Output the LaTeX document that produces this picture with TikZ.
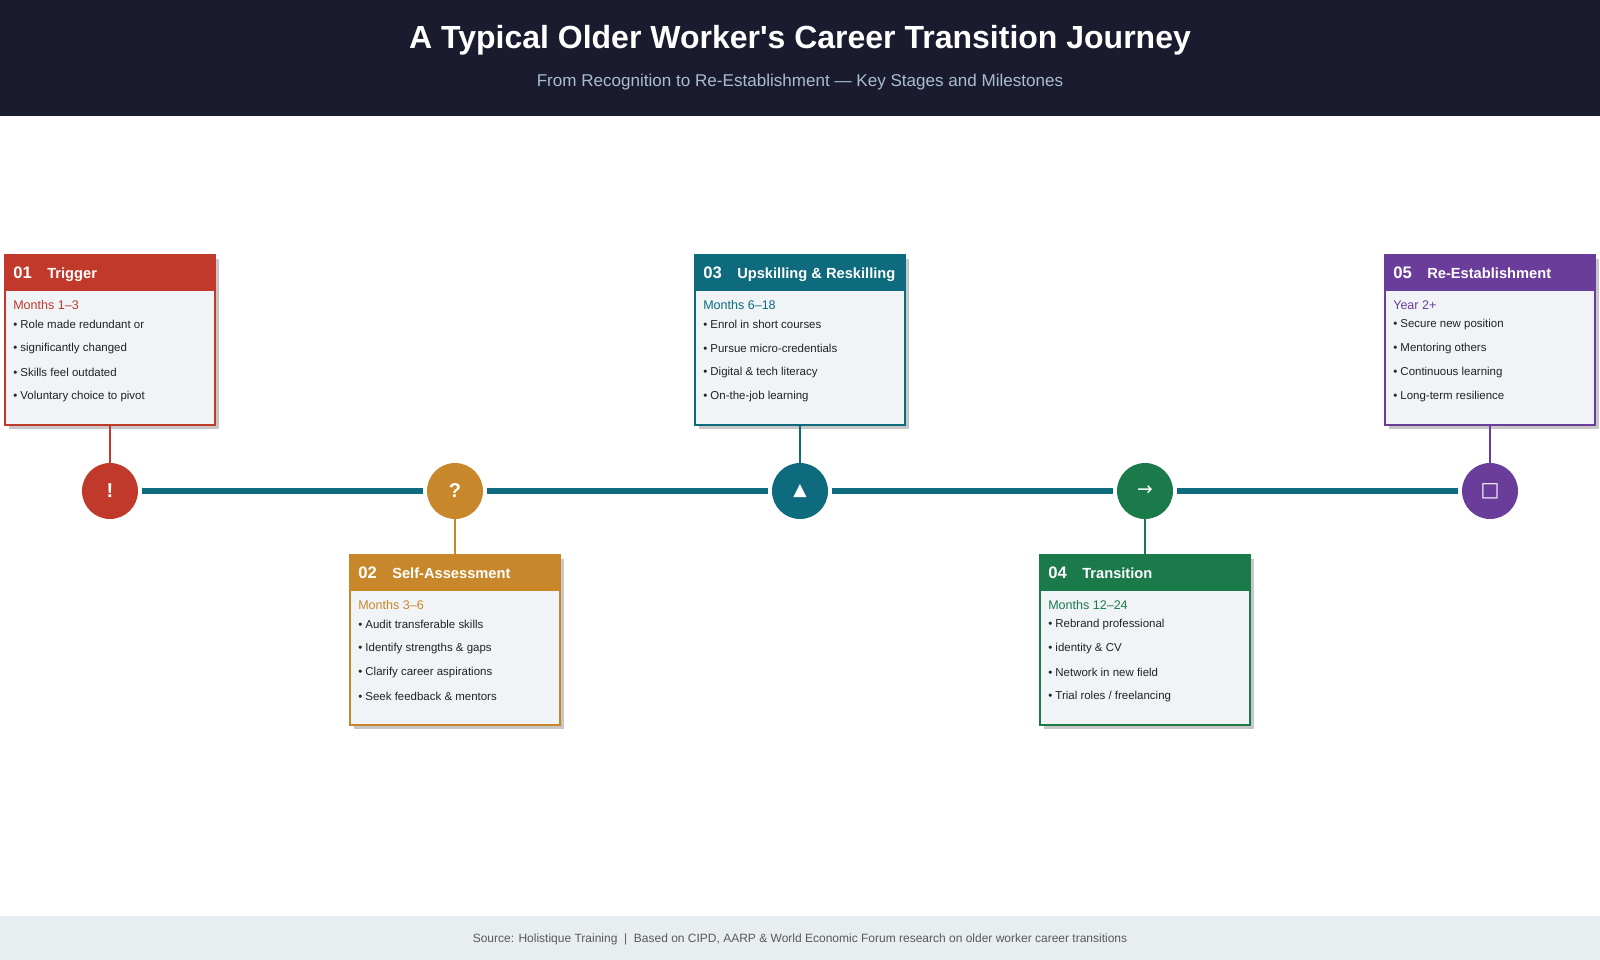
\documentclass[tikz,border=0pt]{standalone}
\usepackage{fontspec}
\setmainfont{Liberation Sans}[Ligatures=TeXOff]
\newfontfamily\dejavu{DejaVu Sans}
\definecolor{hdr}{HTML}{1A1B2E}
\definecolor{sub}{HTML}{A9BCD0}
\definecolor{cR}{HTML}{C0392B}
\definecolor{cO}{HTML}{C8872A}
\definecolor{cT}{HTML}{0E6B7E}
\definecolor{cG}{HTML}{1B7A4A}
\definecolor{cP}{HTML}{6A3D9A}
\definecolor{boxfill}{HTML}{F0F4F7}
\definecolor{foot}{HTML}{E8EEF0}
\definecolor{txt}{HTML}{222222}
\tikzset{
 fs/.style={font=\fontsize{#1}{#1}\selectfont},
 circ/.style={circle,fill=#1,minimum size=42pt,inner sep=0pt,text=white},
 bul/.style={anchor=west,fs=8.6,text=txt,inner sep=0pt},
}
\begin{document}
\begin{tikzpicture}[x=0.75pt,y=-0.75pt]
\useasboundingbox (0,0) rectangle (1600,960);
\fill[hdr] (0,0) rectangle (1600,116);
\node[text=white,font=\bfseries\fontsize{24}{24}\selectfont] (title) at (800,40) {A Typical Older Worker's Career Transition Journey};
\node[fs=12.8,text=sub] (subtitle) at (800,82) {From Recognition to Re-Establishment — Key Stages and Milestones};
\fill[foot] (0,916) rectangle (1600,960);
\node[fs=9,text=black!65] (footer) at (800,939) {Source: Holistique Training \ |\ \ Based on CIPD, AARP \& World Economic Forum research on older worker career transitions};
% circles
\node[circ=cR,font=\bfseries\fontsize{15}{15}\selectfont] (c1) at (110,491) {!};
\node[circ=cO,font=\bfseries\fontsize{15}{15}\selectfont] (c2) at (455,491) {?};
\node[circ=cT,font=\dejavu\fontsize{13}{13}\selectfont] (c3) at (800,491) {▲};
\node[circ=cG,font=\dejavu\fontsize{14}{14}\selectfont] (c4) at (1145,491) {→};
\node[circ=cP,font=\dejavu\fontsize{15}{15}\selectfont] (c5) at (1490,491) {□};
\foreach \a/\b in {c1/c2,c2/c3,c3/c4,c4/c5}
  \draw[cT,line width=4.5pt,shorten <=3pt,shorten >=3pt] (\a) -- (\b);
% boxes
\foreach \n/\cx/\ty/\col/\num/\ttl/\mon/\ba/\bb/\bc/\bd in {
 b1/110/255/cR/01/Trigger/Months 1–3/Role made redundant or/significantly changed/Skills feel outdated/Voluntary choice to pivot,
 b2/455/555/cO/02/Self-Assessment/Months 3–6/Audit transferable skills/Identify strengths \& gaps/Clarify career aspirations/Seek feedback \& mentors,
 b3/800/255/cT/03/Upskilling \& Reskilling/Months 6–18/Enrol in short courses/Pursue micro-credentials/Digital \& tech literacy/On-the-job learning,
 b4/1145/555/cG/04/Transition/Months 12–24/Rebrand professional/identity \& CV/Network in new field/{Trial roles / freelancing},
 b5/1490/255/cP/05/Re-Establishment/Year 2+/Secure new position/Mentoring others/Continuous learning/Long-term resilience}{
 \fill[black!22] (\cx-101,\ty+4) rectangle (\cx+109,\ty+174);
 \draw[\col,line width=1.5pt,fill=boxfill] (\cx-105,\ty) rectangle (\cx+105,\ty+170);
 \fill[\col] (\cx-105,\ty) rectangle (\cx+105,\ty+36);
 \node[anchor=base west,inner sep=0pt,text=white,font=\bfseries\fontsize{12.5}{12.5}\selectfont] (\n num) at (\cx-97,\ty+23) {\num};
 \node[anchor=base west,inner sep=0pt,text=white,font=\bfseries\fontsize{11}{11}\selectfont] (\n t) at (\cx-63,\ty+23) {\ttl};
 \node[anchor=west,inner sep=0pt,text=\col,fs=9.4] (\n m) at (\cx-97,\ty+50) {\mon};
 \node[bul] (\n a) at (\cx-97,\ty+69.5) {• \ba};
 \node[bul] (\n b) at (\cx-97,\ty+93.5) {• \bb};
 \node[bul] (\n c) at (\cx-97,\ty+117.5) {• \bc};
 \node[bul] (\n d) at (\cx-97,\ty+141.5) {• \bd};
 \coordinate (\n top) at (\cx,\ty);
 \coordinate (\n bot) at (\cx,\ty+170);
}
\draw[cR,line width=1.4pt] (b1bot) -- (c1);
\draw[cT,line width=1.4pt] (b3bot) -- (c3);
\draw[cP,line width=1.4pt] (b5bot) -- (c5);
\draw[cO,line width=1.4pt] (c2) -- (b2top);
\draw[cG,line width=1.4pt] (c4) -- (b4top);
\end{tikzpicture}
\end{document}
